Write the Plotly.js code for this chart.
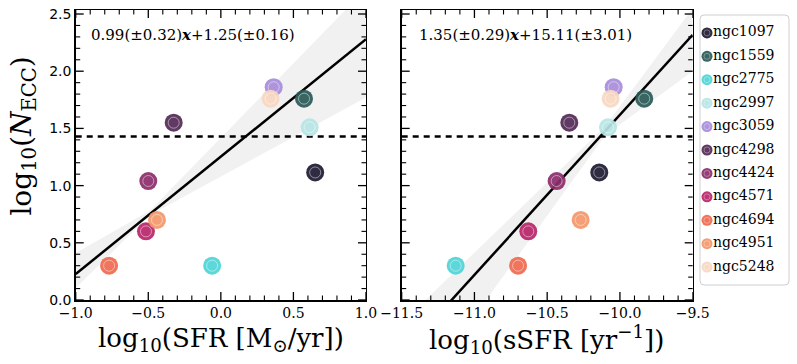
<!DOCTYPE html>
<html>
<head>
<meta charset="utf-8">
<script src="https://cdn.plot.ly/plotly-3.0.1.min.js"></script>
<style>html,body{margin:0;padding:0;background:#fff;}#chart{width:797px;height:364px;}</style>
</head>
<body>
<div id="chart"></div>
<script>
// ---- data ----
const galaxies = ["ngc1097","ngc1559","ngc2775","ngc2997","ngc3059","ngc4298","ngc4424","ngc4571","ngc4694","ngc4951","ngc5248"];
const colors   = ["#1e1b33","#2a5b57","#4fd5d9","#b6e6e5","#a98cdc","#532a55","#8c2d6b","#b9256a","#ef6a4f","#f5976b","#f8d9c2"];
const logNecc  = [1.115, 1.76, 0.30, 1.51, 1.86, 1.55, 1.04, 0.60, 0.30, 0.70, 1.76];
const logSFR   = [0.65, 0.573, -0.06, 0.612, 0.364, -0.325, -0.50, -0.516, -0.77, -0.44, 0.343];
const logSSFR  = [-10.142, -9.833, -11.129, -10.082, -10.043, -10.348, -10.435, -10.63, -10.70, -10.27, -10.064];

const threshold = 1.43;
const fitLeftX  = [-1.0, 1.0];
const fitLeftY  = [0.227, 2.28];
const fitRightX = [-11.5, -9.5];
const fitRightY = [-0.48, 2.318];

// confidence envelope (upper edge left->right, then lower edge right->left)
const bandLeftX  = [-1.0, -0.49, 1.0, 1.0, -0.49, -1.0];
const bandLeftY  = [0.41, 0.78, 2.72, 1.77, 0.74, 0.105];
const bandRightX = [-11.5, -10.1, -9.5, -9.5, -10.1, -10.92, -11.5];
const bandRightY = [-0.2, 1.52, 2.55, 2.0, 1.44, 0.0, -1.02];

const fitLabels = ["0.99(±0.32)<b><i>x</i></b>+1.25(±0.16)", "1.35(±0.29)<b><i>x</i></b>+15.11(±3.01)"];
const xTitles = ["log<sub>10</sub>(SFR [M<sub>⊙</sub>/yr])", "log<sub>10</sub>(sSFR [yr<sup>−1</sup>])"];
const yTitle = "log<sub>10</sub>(<i>N</i><sub>ECC</sub>)";

// ---- traces ----
const traces = [];
const band = (x, y, xa, ya) => ({x, y, xaxis: xa, yaxis: ya, mode: 'lines', fill: 'toself',
  fillcolor: 'rgba(0,0,0,0.055)', line: {width: 0}, hoverinfo: 'skip', showlegend: false});
traces.push(band(bandLeftX, bandLeftY, 'x', 'y'));
traces.push(band(bandRightX, bandRightY, 'x2', 'y2'));

const fitLine = (x, y, xa, ya) => ({x, y, xaxis: xa, yaxis: ya, mode: 'lines',
  line: {color: '#000', width: 2.5}, showlegend: false, hoverinfo: 'skip'});
traces.push(fitLine(fitLeftX, fitLeftY, 'x', 'y'));
traces.push(fitLine(fitRightX, fitRightY, 'x2', 'y2'));

const dash = (xr, xa, ya) => ({x: xr, y: [threshold, threshold], xaxis: xa, yaxis: ya, mode: 'lines',
  line: {color: '#000', width: 2.5, dash: '6px,5px'}, showlegend: false, hoverinfo: 'skip'});
traces.push(dash([-1.0, 1.0], 'x', 'y'));
traces.push(dash([-11.5, -9.5], 'x2', 'y2'));

galaxies.forEach((g, i) => {
  [[logSFR, 'x', 'y'], [logSSFR, 'x2', 'y2']].forEach(([xs, xa, ya]) => {
    traces.push({x: [xs[i]], y: [logNecc[i]], xaxis: xa, yaxis: ya, mode: 'markers', name: g,
      showlegend: false, opacity: 0.92,
      marker: {color: colors[i], size: 18, line: {width: 0}}});
    traces.push({x: [xs[i]], y: [logNecc[i]], xaxis: xa, yaxis: ya, mode: 'markers',
      showlegend: false, hoverinfo: 'skip',
      marker: {symbol: 'circle-open', color: 'rgba(255,255,255,0.45)', size: 11, line: {width: 1}}});
  });
});

// manual legend on its own hidden axes (x5 in pixels across the box, y5 = row index)
const legendRows = galaxies.map((g, i) => i);
const legMarkX = 7, legTextX = 13;
traces.push({x: legendRows.map(() => legMarkX), y: legendRows, xaxis: 'x5', yaxis: 'y5', mode: 'markers',
  showlegend: false, hoverinfo: 'skip', opacity: 0.92, cliponaxis: false,
  marker: {color: colors, size: 11, line: {width: 0}}});
traces.push({x: legendRows.map(() => legMarkX), y: legendRows, xaxis: 'x5', yaxis: 'y5', mode: 'markers',
  showlegend: false, hoverinfo: 'skip', cliponaxis: false,
  marker: {symbol: 'circle-open', color: 'rgba(255,255,255,0.4)', size: 6, line: {width: 0.8}}});
traces.push({x: legendRows.map(() => legTextX), y: legendRows, xaxis: 'x5', yaxis: 'y5', mode: 'text',
  text: galaxies, textposition: 'middle right', showlegend: false, hoverinfo: 'skip', cliponaxis: false,
  textfont: {family: 'DejaVu Serif, serif', size: 14, color: '#000'}});

function mainAxis(extra) {
  return Object.assign({
    showline: true, linecolor: '#000', linewidth: 1.5, mirror: true,
    ticks: '', showgrid: false, zeroline: false, tickformat: '.1f', dtick: 0.5, tick0: 0
  }, extra);
}
const xfont = {family: 'DejaVu Serif, serif', size: 14, color: '#000'};
const yfont = {family: 'DejaVu Sans, sans-serif', size: 14, color: '#000'};
const xd1 = [0.0950, 0.4592], xd2 = [0.5040, 0.8691], yd = [0.1758, 0.9725];
const xr1 = [-1.0, 1.0], xr2 = [-11.5, -9.5], yr = [0, 2.535];

// ---- inward ticks on all four sides, drawn as pixel-sized shapes at tick values ----
const shapes = [];
const MAJ = 8, MIN = 4.5;
function xTicks(xref, ydom, lo, hi) {
  for (let k = Math.round(lo * 10); k <= Math.round(hi * 10); k++) {
    const v = k / 10, major = (k % 5 === 0), len = major ? MAJ : MIN, w = major ? 1.3 : 1.1;
    shapes.push({type: 'line', xref, yref: ydom, ysizemode: 'pixel', yanchor: 0, x0: v, x1: v, y0: 0, y1: len, line: {color: '#000', width: w}});
    shapes.push({type: 'line', xref, yref: ydom, ysizemode: 'pixel', yanchor: 1, x0: v, x1: v, y0: 0, y1: -len, line: {color: '#000', width: w}});
  }
}
function yTicks(xdom, yref, lo, hi) {
  for (let k = Math.round(lo * 10); k <= Math.floor(hi * 10); k++) {
    const v = k / 10, major = (k % 5 === 0), len = major ? MAJ : MIN, w = major ? 1.3 : 1.1;
    shapes.push({type: 'line', xref: xdom, yref, xsizemode: 'pixel', xanchor: 0, x0: 0, x1: len, y0: v, y1: v, line: {color: '#000', width: w}});
    shapes.push({type: 'line', xref: xdom, yref, xsizemode: 'pixel', xanchor: 1, x0: 0, x1: -len, y0: v, y1: v, line: {color: '#000', width: w}});
  }
}
xTicks('x', 'y domain', xr1[0], xr1[1]);
xTicks('x2', 'y2 domain', xr2[0], xr2[1]);
yTicks('x domain', 'y', yr[0], yr[1]);
yTicks('x2 domain', 'y2', yr[0], yr[1]);

// rounded legend frame in paper coords
const L = 700/797, R = 789/797, T = 1 - 15/364, B = 1 - 285/364, rx = 4/797, ry = 4/364;
const framePath = `M ${L+rx},${T} L ${R-rx},${T} Q ${R},${T} ${R},${T-ry} L ${R},${B+ry} Q ${R},${B} ${R-rx},${B} ` +
  `L ${L+rx},${B} Q ${L},${B} ${L},${B+ry} L ${L},${T-ry} Q ${L},${T} ${L+rx},${T} Z`;
shapes.push({type: 'path', xref: 'paper', yref: 'paper', path: framePath, line: {color: '#cfcfcf', width: 1}, fillcolor: '#fff', layer: 'below'});

const layout = {
  width: 797, height: 364,
  margin: {l: 0, r: 0, t: 0, b: 0},
  paper_bgcolor: '#fff', plot_bgcolor: 'rgba(0,0,0,0)',
  showlegend: false,
  xaxis: mainAxis({domain: xd1, range: xr1, tickfont: xfont, anchor: 'y'}),
  yaxis: mainAxis({domain: yd, range: yr, tickfont: yfont, anchor: 'x'}),
  xaxis2: mainAxis({domain: xd2, range: xr2, tickfont: xfont, anchor: 'y2'}),
  yaxis2: mainAxis({domain: yd, range: yr, showticklabels: false, anchor: 'x2'}),
  xaxis5: {domain: [700/797, 789/797], range: [0, 89], visible: false, fixedrange: true, anchor: 'y5'},
  yaxis5: {domain: [1 - 280/364, 1 - 20/364], range: [10.55, -0.55], visible: false, fixedrange: true, anchor: 'x5'},
  shapes,
  annotations: [
    {text: fitLabels[0], xref: 'x domain', yref: 'y domain', x: 0.046, y: 0.914, xanchor: 'left', yanchor: 'middle',
     showarrow: false, font: {family: 'DejaVu Serif, serif', size: 15, color: '#000'}},
    {text: fitLabels[1], xref: 'x2 domain', yref: 'y2 domain', x: 0.053, y: 0.914, xanchor: 'left', yanchor: 'middle',
     showarrow: false, font: {family: 'DejaVu Serif, serif', size: 15, color: '#000'}},
    {text: xTitles[0], xref: 'paper', yref: 'paper', x: 0.2773, y: 0.066, xanchor: 'center', yanchor: 'middle',
     showarrow: false, font: {family: 'DejaVu Serif, serif', size: 26, color: '#000'}},
    {text: xTitles[1], xref: 'paper', yref: 'paper', x: 0.6863, y: 0.066, xanchor: 'center', yanchor: 'middle',
     showarrow: false, font: {family: 'DejaVu Serif, serif', size: 26, color: '#000'}},
    {text: yTitle, xref: 'paper', yref: 'paper', x: 0.029, y: 0.625, xanchor: 'center', yanchor: 'middle',
     textangle: -90, showarrow: false, font: {family: 'DejaVu Serif, serif', size: 28, color: '#000'}}
  ]
};

Plotly.newPlot('chart', traces, layout, {staticPlot: true, displayModeBar: false});
</script>
</body>
</html>
